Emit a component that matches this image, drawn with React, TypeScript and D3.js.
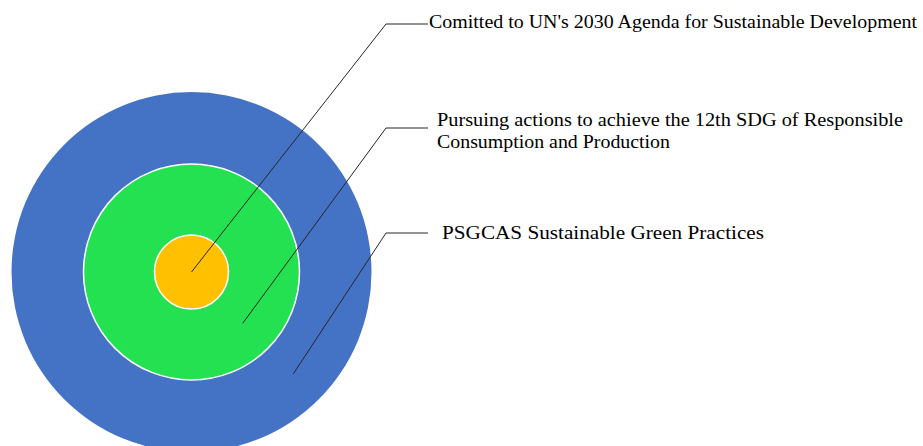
import { useRef, useEffect } from 'react'
import * as d3 from 'd3'

const WIDTH = 923
const HEIGHT = 446
const CENTER = { x: 191.5, y: 272 }

// rings from outside to inside
const RING_NAMES = ['Practices', 'SDG 12', 'Agenda 2030']
const RING_SIZES = [180, 108, 37]
const RING_COLORS = ['#4472C4', '#23E150', '#FFC000']

// labels from the core outwards
const LABEL_LINES = [
  ["Comitted to UN's 2030 Agenda for Sustainable Development"],
  ['Pursuing actions to achieve the 12th SDG of Responsible', 'Consumption and Production'],
  ['PSGCAS Sustainable Green Practices'],
]
const LABEL_WIDTHS = [
  [488],
  [466, 233],
  [322],
]

const ELBOW_X = 386
const ELBOW_Y = [24, 128, 233]
const TEXT_X = [429, 437, 442]

export default function App() {
  const svgRef = useRef<SVGSVGElement>(null)

  useEffect(() => {
    if (!svgRef.current) return
    const svg = d3.select(svgRef.current)
    svg.selectAll('*').remove()

    const r = d3.scaleLinear().domain([0, 180]).range([0, 180])

    const g = svg.append('g').attr('transform', `translate(${CENTER.x},${CENTER.y})`)

    g.selectAll('circle')
      .data(RING_SIZES)
      .join('circle')
      .attr('r', (d) => r(d))
      .attr('fill', (_d, i) => RING_COLORS[i])
      .attr('stroke', (_d, i) => (i === 0 ? 'none' : '#fff'))
      .attr('stroke-width', 1.5)

    // anchor of each leader = middle of its ring, 45 degrees down-right
    const inner = [...RING_SIZES].reverse()
    const anchors = inner.map((outer, i) => {
      const innerR = i === 0 ? 0 : inner[i - 1]
      const mid = i === 0 ? 0 : (r(outer) + r(innerR)) / 2
      const a = Math.PI / 4
      return { x: CENTER.x + mid * Math.cos(a), y: CENTER.y + mid * Math.sin(a) }
    })

    const leaders = svg.append('g')
    anchors.forEach((p, i) => {
      const line = d3.line()
      leaders
        .append('path')
        .attr('d', line([
          [p.x, p.y],
          [ELBOW_X, ELBOW_Y[i]],
          [TEXT_X[0] - 1, ELBOW_Y[i]],
        ]))
        .attr('fill', 'none')
        .attr('stroke', '#262626')
        .attr('stroke-width', 1)
    })

    const labels = svg.append('g')
      .attr('font-family', '"Liberation Serif", "Times New Roman", serif')
      .attr('font-size', 18)
      .attr('fill', '#000')

    LABEL_LINES.forEach((lines, i) => {
      lines.forEach((txt, j) => {
        labels
          .append('text')
          .attr('x', TEXT_X[i])
          .attr('y', ELBOW_Y[i] + 4 + (i === 1 ? -6 : 0) + (i === 2 ? 2 : 0) + j * 22)
          .attr('textLength', LABEL_WIDTHS[i][j])
          .attr('lengthAdjust', 'spacingAndGlyphs')
          .text(txt)
      })
    })
  }, [])

  return (
    <svg
      ref={svgRef}
      width={WIDTH}
      height={HEIGHT}
      style={{ position: 'fixed', left: 0, top: 0, background: '#fff' }}
    />
  )
}
